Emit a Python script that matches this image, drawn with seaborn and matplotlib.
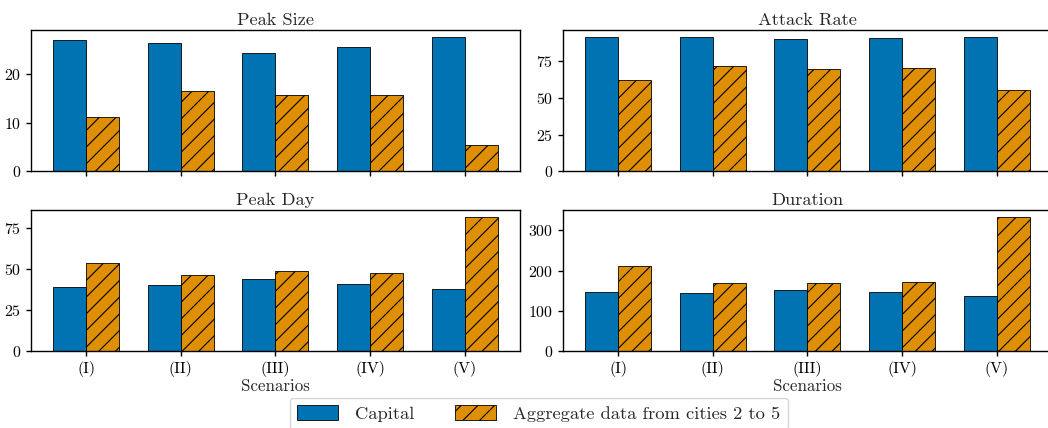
import matplotlib
matplotlib.use("Agg")
import matplotlib.pyplot as plt
import matplotlib.patches as mpatches
import pandas as pd
import seaborn as sns

scenarios = ["(I)", "(II)", "(III)", "(IV)", "(V)"]
groups = ["Capital", "Aggregate data from cities 2 to 5"]

peak_size_capital = [27.0, 26.35, 24.3, 25.5, 27.6]
peak_size_agg = [11.05, 16.4, 15.6, 15.6, 5.35]
attack_rate_capital = [91.4, 91.2, 90.0, 90.7, 91.6]
attack_rate_agg = [62.3, 71.6, 70.0, 70.2, 55.2]
peak_day_capital = [39.0, 40.0, 43.9, 40.9, 37.8]
peak_day_agg = [53.5, 46.3, 48.8, 47.6, 81.7]
duration_capital = [146, 145, 151, 146, 136]
duration_agg = [211, 169, 170, 171, 333]

panels = [
    ("Peak Size", peak_size_capital, peak_size_agg),
    ("Attack Rate", attack_rate_capital, attack_rate_agg),
    ("Peak Day", peak_day_capital, peak_day_agg),
    ("Duration", duration_capital, duration_agg),
]

palette = sns.color_palette("colorblind")
colors = [palette[0], palette[1]]

sns.set_style("ticks", {"axes.spines.top": True, "axes.spines.right": True})
plt.rcParams.update({
    "font.family": "serif",
    "font.serif": ["cmr10"],
    "mathtext.fontset": "cm",
    "axes.formatter.use_mathtext": True,
    "axes.unicode_minus": False,
    "hatch.color": "black",
    "hatch.linewidth": 0.8,
    "axes.edgecolor": "black",
    "axes.linewidth": 1.0,
    "xtick.color": "black",
    "ytick.color": "black",
})

W, H = 1048, 428
fig = plt.figure(figsize=(W / 100, H / 100), dpi=100)

lefts = [30.7 / W, 562.7 / W]
width = 489.3 / W
bottoms = [1 - 171.3 / H, 1 - 351.3 / H]
height = 141.2 / H

for i, (title, cap, agg) in enumerate(panels):
    row, col = divmod(i, 2)
    ax = fig.add_axes([lefts[col], bottoms[row], width, height])
    df = pd.DataFrame({
        "Scenario": scenarios * 2,
        "Value": list(cap) + list(agg),
        "Group": [groups[0]] * len(cap) + [groups[1]] * len(agg),
    })
    sns.barplot(data=df, x="Scenario", y="Value", hue="Group", order=scenarios,
                hue_order=groups, palette=colors, saturation=1, width=0.7,
                edgecolor="black", linewidth=0.6, legend=False, ax=ax)
    for bar in ax.containers[1]:
        bar.set_hatch("//")
    ax.set_xlim(-0.585, 4.585)
    ax.set_title(title, fontsize=13.2, pad=3.6)
    ax.set_ylabel("")
    ax.tick_params(axis="both", labelsize=11.4, length=3.5, width=1.0)
    if row == 0:
        ax.set_xticklabels([])
        ax.set_xlabel("")
    else:
        ax.set_xlabel("Scenarios", fontsize=12.2, labelpad=1.2)

handles = [
    mpatches.Patch(facecolor=colors[0], edgecolor="black", linewidth=0.6, label=groups[0]),
    mpatches.Patch(facecolor=colors[1], edgecolor="black", linewidth=0.6, hatch="//", label=groups[1]),
]
fig.legend(handles=handles, loc="upper center", bbox_to_anchor=(538.7 / W, 1 - 397.7 / H),
           borderaxespad=0, ncol=2, fontsize=13.3, frameon=True,
           handlelength=2.2, handleheight=0.85, handletextpad=0.95, columnspacing=2.2)

fig.savefig("out.png", dpi=100)
